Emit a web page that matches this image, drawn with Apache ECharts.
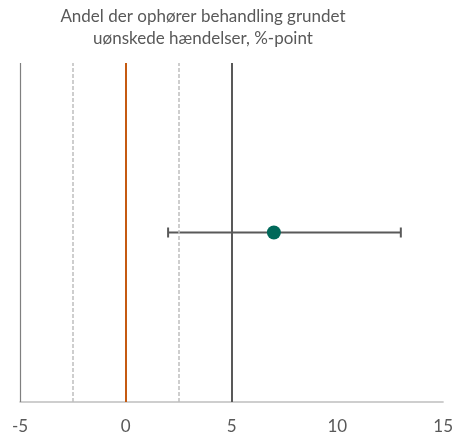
<!DOCTYPE html>
<html>
<head>
<meta charset="utf-8">
<script src="https://cdn.jsdelivr.net/npm/echarts@6/dist/echarts.min.js"></script>
<style>html,body{margin:0;padding:0;background:#fff}#c{width:456px;height:435px}</style>
</head>
<body>
<div id="c"></div>
<script>
var titleLines = ['Andel der ophører behandling grundet', 'uønskede hændelser, %-point'];
var xTicks = [-5, 0, 5, 10, 15];
var estimate = [7];
var lowerCI = [2];
var upperCI = [13];
var refZero = [0];
var refMargin = [-2.5, 2.5];
var refThreshold = [5];

var chart = echarts.init(document.getElementById('c'), null, {renderer: 'canvas'});
var font = 'Lato';
chart.setOption({
  animation: false,
  graphic: [{
    type: 'text', x: 203, y: 6,
    style: {text: titleLines.join('\n'), font: '17px Lato', fill: '#595959', lineHeight: 22, align: 'center', verticalAlign: 'top'}
  }],
  grid: {left: 20, right: 10, top: 63, bottom: 33},
  xAxis: {
    type: 'value', min: xTicks[0], max: xTicks[xTicks.length - 1], interval: 5,
    axisLine: {show: true, lineStyle: {color: '#BFBFBF', width: 1.5}},
    axisTick: {show: false}, splitLine: {show: false},
    axisLabel: {color: '#595959', fontSize: 17, fontFamily: font, margin: 16}
  },
  yAxis: {type: 'value', min: 0, max: 1, show: false},
  series: [
    {
      type: 'line', data: [], silent: true,
      markLine: {
        symbol: 'none', silent: true, label: {show: false},
        data: [
          {xAxis: xTicks[0], lineStyle: {color: '#7F7F7F', width: 1.2, type: 'solid'}}
        ].concat(refMargin.map(function (v) { return {xAxis: v, lineStyle: {color: '#BFBFBF', width: 1.5, type: [4, 2]}}; }))
         .concat(refZero.map(function (v) { return {xAxis: v, lineStyle: {color: '#C55A11', width: 2, type: 'solid'}}; }))
         .concat(refThreshold.map(function (v) { return {xAxis: v, lineStyle: {color: '#595959', width: 2, type: 'solid'}}; }))
      }
    },
    {
      type: 'custom', silent: true,
      data: lowerCI.map(function (l, i) { return [l, upperCI[i], 0.5]; }),
      renderItem: function (params, api) {
        var a = api.coord([api.value(0), api.value(2)]);
        var b = api.coord([api.value(1), api.value(2)]);
        var st = {stroke: '#595959', lineWidth: 2};
        return {type: 'group', children: [
          {type: 'line', shape: {x1: a[0], y1: a[1], x2: b[0], y2: b[1]}, style: st},
          {type: 'line', shape: {x1: a[0], y1: a[1] - 5, x2: a[0], y2: a[1] + 5}, style: st},
          {type: 'line', shape: {x1: b[0], y1: b[1] - 5, x2: b[0], y2: b[1] + 5}, style: st}
        ]};
      }
    },
    {
      type: 'scatter', symbolSize: 14, z: 5,
      itemStyle: {color: '#00695A', opacity: 1},
      data: estimate.map(function (v) { return [v, 0.5]; })
    }
  ]
});
</script>
</body>
</html>
